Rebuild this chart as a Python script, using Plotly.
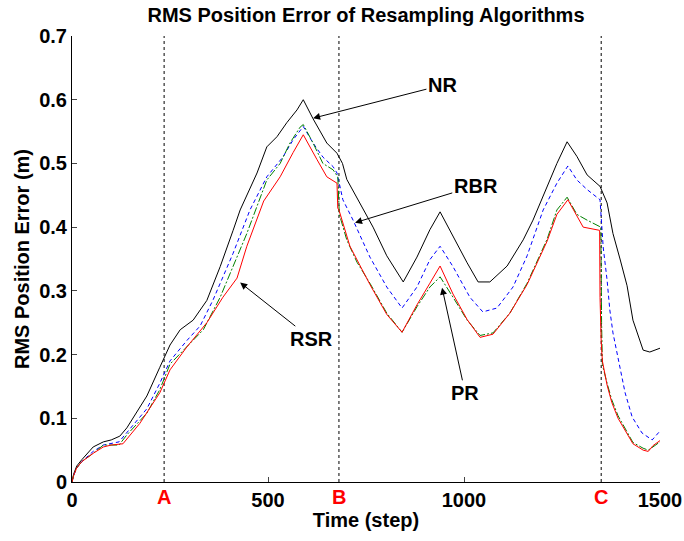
import plotly.graph_objects as go

# ---------------- data ----------------
nr_t = [0, 4, 12, 25, 54, 80, 100, 122, 140, 170, 191, 224, 250, 276, 309, 344, 378, 411, 429, 472, 497, 523,
        548, 574, 590, 615, 650, 676, 690, 701, 727, 768, 803, 845, 880, 913, 939, 972, 1008, 1036, 1066, 1110,
        1151, 1176, 1212, 1237, 1263, 1288, 1314, 1347, 1365, 1380, 1398, 1416, 1431, 1457, 1474, 1500]
nr_v = [0, 0.012, 0.025, 0.035, 0.055, 0.063, 0.066, 0.072, 0.085, 0.115, 0.135, 0.18, 0.215, 0.239, 0.254,
        0.285, 0.338, 0.395, 0.427, 0.485, 0.526, 0.542, 0.564, 0.584, 0.60, 0.57, 0.532, 0.516, 0.50, 0.475,
        0.445, 0.40, 0.355, 0.314, 0.353, 0.396, 0.424, 0.385, 0.344, 0.314, 0.314, 0.339, 0.38, 0.411, 0.463,
        0.50, 0.534, 0.511, 0.482, 0.464, 0.438, 0.39, 0.35, 0.308, 0.254, 0.207, 0.204, 0.21]

rbr_t = [0, 4, 12, 25, 54, 80, 120, 140, 191, 224, 250, 293, 327, 360, 411, 454, 497, 538, 564, 590, 615, 640,
         666, 676, 691, 717, 760, 803, 842, 880, 913, 939, 972, 1015, 1048, 1084, 1125, 1161, 1202, 1237, 1265,
         1288, 1314, 1347, 1355, 1365, 1372, 1380, 1398, 1411, 1429, 1454, 1480, 1500]
rbr_v = [0, 0.01, 0.022, 0.032, 0.048, 0.058, 0.063, 0.078, 0.115, 0.155, 0.19, 0.222, 0.245, 0.286, 0.359,
         0.427, 0.479, 0.51, 0.537, 0.558, 0.532, 0.51, 0.495, 0.485, 0.443, 0.411, 0.353, 0.306, 0.273, 0.306,
         0.349, 0.37, 0.338, 0.29, 0.267, 0.273, 0.306, 0.355, 0.427, 0.469, 0.496, 0.474, 0.459, 0.443, 0.369,
         0.317, 0.27, 0.234, 0.18, 0.14, 0.102, 0.077, 0.066, 0.08]

pr_t = [0, 4, 12, 25, 54, 80, 120, 140, 191, 224, 250, 293, 335, 378, 411, 446, 497, 531, 556, 582, 590, 615,
        640, 666, 678, 682, 701, 727, 760, 803, 842, 880, 913, 939, 972, 1008, 1041, 1074, 1117, 1161, 1212,
        1237, 1263, 1288, 1314, 1349, 1351, 1353, 1365, 1377, 1393, 1411, 1431, 1457, 1470, 1482, 1500]
pr_v = [0, 0.01, 0.022, 0.032, 0.045, 0.058, 0.058, 0.074, 0.108, 0.145, 0.185, 0.213, 0.239, 0.29, 0.338,
        0.39, 0.474, 0.50, 0.532, 0.557, 0.561, 0.532, 0.50, 0.49, 0.479, 0.42, 0.38, 0.345, 0.312, 0.265,
        0.235, 0.275, 0.306, 0.322, 0.29, 0.254, 0.23, 0.234, 0.265, 0.312, 0.381, 0.427, 0.447, 0.42, 0.411,
        0.40, 0.25, 0.184, 0.155, 0.129, 0.104, 0.083, 0.062, 0.053, 0.05, 0.055, 0.063]

rsr_t = [0, 4, 12, 25, 54, 80, 100, 130, 173, 224, 250, 293, 344, 385, 421, 446, 489, 531, 564, 590, 625, 650,
         676, 678, 682, 709, 760, 803, 842, 880, 913, 939, 972, 1008, 1041, 1074, 1117, 1161, 1212, 1237, 1265,
         1288, 1304, 1346, 1347, 1350, 1353, 1365, 1377, 1393, 1411, 1431, 1457, 1470, 1482, 1500]
rsr_v = [0, 0.01, 0.022, 0.032, 0.045, 0.055, 0.058, 0.06, 0.092, 0.14, 0.176, 0.212, 0.25, 0.29, 0.32, 0.37,
         0.441, 0.479, 0.517, 0.545, 0.506, 0.479, 0.469, 0.43, 0.425, 0.37, 0.31, 0.263, 0.235, 0.278, 0.312,
         0.339, 0.295, 0.255, 0.227, 0.232, 0.265, 0.31, 0.378, 0.42, 0.443, 0.417, 0.40, 0.395, 0.29, 0.22,
         0.19, 0.152, 0.125, 0.1, 0.08, 0.06, 0.05, 0.048, 0.057, 0.065]

event_t = [235, 681, 1350]
event_labels = ["A", "B", "C"]

x_ticks = [0, 500, 1000, 1500]
y_ticks = [0, 0.1, 0.2, 0.3, 0.4, 0.5, 0.6, 0.7]

# label annotations: name, arrow tip (t, v), text position (t, v)
labels = [
    ("NR", (615, 0.571), (945, 0.623)),
    ("RBR", (722, 0.407), (1030, 0.465)),
    ("RSR", (429, 0.313), (610, 0.225)),
    ("PR", (944, 0.305), (1003, 0.14)),
]

FONT = "Liberation Sans, Arial, sans-serif"
FS = 20

fig = go.Figure()
fig.add_trace(go.Scatter(x=nr_t, y=nr_v, mode="lines", name="NR",
                         line=dict(color="black", width=1)))
fig.add_trace(go.Scatter(x=rbr_t, y=rbr_v, mode="lines", name="RBR",
                         line=dict(color="blue", width=1, dash="4px,3px")))
fig.add_trace(go.Scatter(x=pr_t, y=pr_v, mode="lines", name="PR",
                         line=dict(color="green", width=1, dash="8px,2px,2px,2px")))
fig.add_trace(go.Scatter(x=rsr_t, y=rsr_v, mode="lines", name="RSR",
                         line=dict(color="red", width=1)))

for t, lab in zip(event_t, event_labels):
    fig.add_shape(type="line", xref="x", yref="y", x0=t, x1=t, y0=0, y1=0.7,
                  line=dict(color="black", width=1, dash="3px,3px"), layer="below")
    fig.add_annotation(x=t, y=0, xref="x", yref="paper", text=lab, showarrow=False,
                       yanchor="top", yshift=-2,
                       font=dict(family=FONT, size=FS, color="red", weight="bold"))

for name, tip, txt in labels:
    fig.add_annotation(x=tip[0], y=tip[1], ax=txt[0], ay=txt[1], xref="x", yref="y",
                       axref="x", ayref="y", text=name, showarrow=True,
                       arrowhead=2, arrowsize=1.4, arrowwidth=1, arrowcolor="black",
                       font=dict(family=FONT, size=FS, color="black", weight="bold"))

fig.update_layout(
    width=684, height=541,
    margin=dict(l=72, r=24, t=36, b=59),
    plot_bgcolor="white", paper_bgcolor="white",
    showlegend=False,
    title=dict(text="RMS Position Error of Resampling Algorithms", x=0.5, xref="paper",
               y=1 - 15 / 541, yanchor="middle", yref="container",
               font=dict(family=FONT, size=20, color="black", weight="bold")),
)
fig.update_xaxes(range=[0, 1500], tickvals=x_ticks, ticks="inside", ticklen=5, automargin=False,
                 showline=True, linecolor="black", linewidth=1, showgrid=False, zeroline=False,
                 tickfont=dict(family=FONT, size=FS, color="black", weight="bold"),
                 title=dict(text="Time (step)", standoff=2,
                            font=dict(family=FONT, size=FS, color="black", weight="bold")))
fig.update_yaxes(range=[0, 0.7], tickvals=y_ticks, ticks="inside", ticklen=5, automargin=False,
                 showline=True, linecolor="black", linewidth=1, showgrid=False, zeroline=False,
                 tickfont=dict(family=FONT, size=FS, color="black", weight="bold"),
                 title=dict(text="RMS Position Error (m)", standoff=4,
                            font=dict(family=FONT, size=FS, color="black", weight="bold")))

fig.write_html("out.html")
